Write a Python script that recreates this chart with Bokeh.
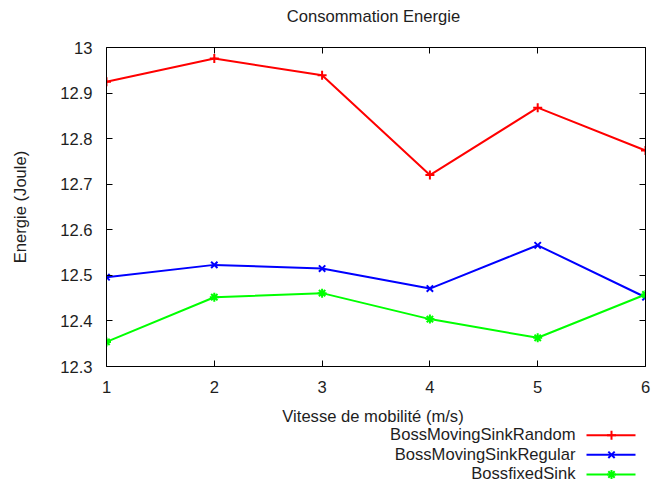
from bokeh.plotting import figure
from bokeh.models import Range1d, FixedTicker, LinearAxis, CustomJSTickFormatter
from bokeh.layouts import column
from bokeh.embed import file_html
from bokeh.resources import INLINE
from bokeh.core.properties import value

# ---- data ----
x_speed = [1, 2, 3, 4, 5, 6]
random_energy = [12.925, 12.976, 12.939, 12.720, 12.868, 12.774]
regular_energy = [12.496, 12.523, 12.515, 12.471, 12.566, 12.452]
fixed_energy = [12.354, 12.452, 12.461, 12.404, 12.363, 12.458]
series_names = ["BossMovingSinkRandom", "BossMovingSinkRegular", "BossfixedSink"]
series_values = [random_energy, regular_energy, fixed_energy]
series_colors = ["#ff0000", "#0000ff", "#00ff00"]
series_markers = ["cross", "x", "asterisk"]
x_ticks = [1, 2, 3, 4, 5, 6]
y_ticks = [12.3, 12.4, 12.5, 12.6, 12.7, 12.8, 12.9, 13]
y_tick_labels = ["12.3", "12.4", "12.5", "12.6", "12.7", "12.8", "12.9", "13"]
title_text = "Consommation Energie"
x_label_text = "Vitesse de mobilité (m/s)"
y_label_text = "Energie (Joule)"

FONT = "Liberation Sans"
FS = "16.6px"
TXT = "#1e1e1e"


def panel(h):
    # frames of the column's plots are aligned with the main frame (x: 106..645 px)
    f = figure(width=656, height=h, x_range=Range1d(106, 645), y_range=Range1d(h, 0),
               x_axis_type=None, y_axis_type=None, output_backend="svg", toolbar_location=None,
               min_border=0, outline_line_color=None,
               background_fill_color="white", border_fill_color="white")
    return f


# ---- title panel ----
head = panel(28)
head.text(x=[373], y=[16], text=[title_text], text_align="center", text_baseline="middle",
          text_font=value(FONT), text_font_size=value(FS), text_color=TXT)

# ---- main plot ----
p = figure(width=656, height=372, x_range=Range1d(1, 6), y_range=Range1d(12.3, 13),
           output_backend="svg", toolbar_location=None,
           min_border_left=106, min_border_right=11, min_border_top=19, min_border_bottom=34,
           background_fill_color="white", border_fill_color="white", outline_line_color=None)
p.grid.visible = False


def style_axis(ax, ticks, standoff, show_labels=True):
    ax.ticker = FixedTicker(ticks=ticks)
    ax.major_tick_in = 6
    ax.major_tick_out = 0
    ax.minor_tick_in = 0
    ax.minor_tick_out = 0
    ax.axis_line_color = "black"
    ax.axis_line_width = 1
    ax.major_tick_line_color = "black"
    ax.major_label_text_font = FONT
    ax.major_label_text_color = TXT
    ax.major_label_standoff = standoff
    if show_labels:
        ax.major_label_text_font_size = FS
    else:
        ax.major_label_text_font_size = "1px"
        ax.formatter = CustomJSTickFormatter(code="return ''")


style_axis(p.xaxis[0], x_ticks, 14)
ya = p.yaxis[0]
style_axis(ya, y_ticks, 14)
ya.major_label_overrides = {v: l for v, l in zip(y_ticks, y_tick_labels)}
ya.axis_label = y_label_text
ya.axis_label_standoff = 27
ya.axis_label_text_font = FONT
ya.axis_label_text_font_size = FS
ya.axis_label_text_color = TXT
ya.axis_label_text_font_style = "normal"

top_ax = LinearAxis()
style_axis(top_ax, x_ticks, 0, show_labels=False)
p.add_layout(top_ax, "above")
right_ax = LinearAxis()
style_axis(right_ax, y_ticks, 0, show_labels=False)
p.add_layout(right_ax, "right")

for ys, c, m in zip(series_values, series_colors, series_markers):
    p.line(x_speed, ys, line_color=c, line_width=2)
    p.scatter(x_speed, ys, marker=m, size=9, line_color=c, fill_color=c, line_width=2)

# ---- x-axis title and legend panel ----
foot = panel(86)
foot.text(x=[372.5], y=[16.0], text=[x_label_text], text_align="center", text_baseline="middle",
          text_font=value(FONT), text_font_size=value(FS), text_color=TXT)
row_y = [34.7, 54.3, 74.0]
foot.text(x=[575] * 3, y=[r - 0.8 for r in row_y], text=series_names, text_align="right",
          text_baseline="middle", text_font=value(FONT), text_font_size=value(FS),
          text_color=TXT)
foot.segment(x0=[586] * 3, y0=row_y, x1=[635] * 3, y1=row_y, line_color=series_colors, line_width=2)
foot.scatter(x=[611] * 3, y=row_y, marker=series_markers, size=9, line_color=series_colors,
             fill_color=series_colors, line_width=2)

layout = column(head, p, foot, spacing=0)
open("out.html", "w").write(file_html(layout, INLINE))
